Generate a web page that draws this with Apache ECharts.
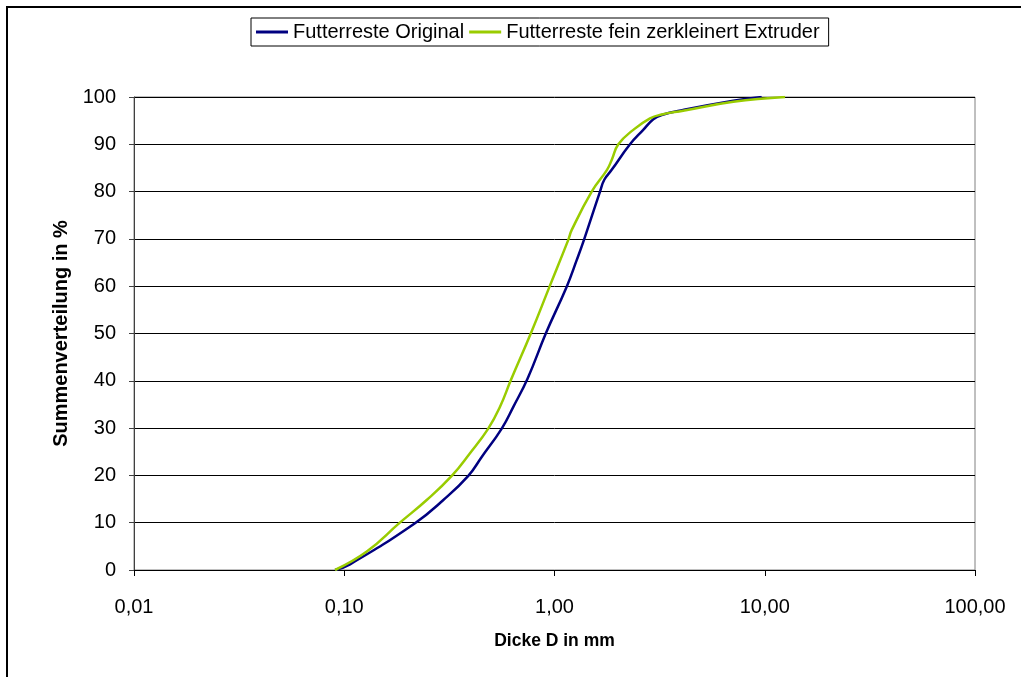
<!DOCTYPE html>
<html>
<head>
<meta charset="utf-8">
<script src="https://cdn.jsdelivr.net/npm/echarts@6/dist/echarts.min.js"></script>
<style>
html,body{margin:0;padding:0;background:#fff;overflow:hidden;}
#frame{position:absolute;left:6px;top:6px;width:1100px;height:800px;border-left:2px solid #000;border-top:2px solid #000;box-sizing:border-box;}
#chart{position:absolute;left:0;top:0;width:1021px;height:677px;}
</style>
</head>
<body>
<div id="frame"></div>
<div id="chart"></div>
<script>
const seriesNames = ['Futterreste Original', 'Futterreste fein zerkleinert Extruder'];
const xTickLabels = ['0,01', '0,10', '1,00', '10,00', '100,00'];
const originalData = [
  [0.0904, 0], [0.1065, 1.2], [0.217, 9.9], [0.296, 14.8], [0.389, 19.9],
  [0.4505, 23.9], [0.561, 29.9], [0.637, 34.5], [0.745, 40.5], [0.911, 50.1],
  [1.143, 59.9], [1.275, 65.5], [1.381, 69.8], [1.646, 80.0],
  [1.725, 82.5], [1.871, 84.6], [2.286, 90.0], [2.636, 93.0], [2.951, 95.3], [3.236, 96.2],
  [4.09, 97.25], [7.09, 99.2], [9.67, 100]
];
const extruderData = [
  [0.0904, 0], [0.128, 3.9], [0.1827, 9.9], [0.2467, 14.8], [0.3245, 19.9], [0.3963, 24.7],
  [0.484, 29.9], [0.5506, 34.5], [0.621, 40.2], [0.773, 50.1], [0.945, 59.8],
  [1.163, 69.8], [1.208, 71.9], [1.503, 80.0], [1.777, 84.6],
  [1.871, 86.7], [2.012, 90.0], [2.362, 93.0], [2.846, 95.5], [3.236, 96.3], [4.09, 97.1],
  [7.09, 99.0], [12.49, 100]
];

const chart = echarts.init(document.getElementById('chart'), null, {renderer: 'canvas'});
const font = 'Liberation Sans, Arial, sans-serif';
const labelMap = {0.01: xTickLabels[0], 0.1: xTickLabels[1], 1: xTickLabels[2], 10: xTickLabels[3], 100: xTickLabels[4]};
chart.setOption({
  animation: false,
  grid: {left: 134, right: 46, top: 97, bottom: 107, show: true, borderColor: '#808080', borderWidth: 1, backgroundColor: 'transparent'},
  legend: {
    data: seriesNames,
    left: 251, top: 18,
    padding: [4, 9, 4, 5],
    itemGap: 5,
    itemWidth: 32, itemHeight: 3,
    borderColor: '#000', borderWidth: 1,
    textStyle: {fontFamily: font, fontSize: 20, color: '#000'},
    icon: 'rect'
  },
  xAxis: {
    type: 'log', logBase: 10, min: 0.01, max: 100,
    name: 'Dicke D in mm', nameLocation: 'middle', nameGap: 62,
    nameTextStyle: {fontFamily: font, fontSize: 17.5, fontWeight: 'bold', color: '#000'},
    axisLine: {show: true, lineStyle: {color: '#000', width: 1}},
    axisTick: {show: true, length: 6, inside: false, lineStyle: {color: '#000'}},
    minorTick: {show: false},
    splitLine: {show: false},
    axisLabel: {margin: 27, fontFamily: font, fontSize: 20, color: '#000',
      formatter: v => labelMap[Math.round(v * 1000) / 1000] || ''}
  },
  yAxis: {
    type: 'value', min: 0, max: 100, interval: 10,
    name: 'Summenverteilung in %', nameLocation: 'middle', nameGap: 63, nameRotate: 90,
    nameTextStyle: {fontFamily: font, fontSize: 20, fontWeight: 'bold', color: '#000'},
    axisLine: {show: true, lineStyle: {color: '#404040', width: 1}},
    axisTick: {show: true, length: 5, lineStyle: {color: '#404040'}},
    splitLine: {show: true, lineStyle: {color: '#000', width: 1}},
    axisLabel: {margin: 18, fontFamily: font, fontSize: 20, color: '#000'}
  },
  series: [
    {name: seriesNames[0], type: 'line', data: originalData, smooth: 0.45, showSymbol: false, symbol: 'none',
      lineStyle: {color: '#000080', width: 2.5}, itemStyle: {color: '#000080'}},
    {name: seriesNames[1], type: 'line', data: extruderData, smooth: 0.45, showSymbol: false, symbol: 'none',
      lineStyle: {color: '#99CC00', width: 2.5}, itemStyle: {color: '#99CC00'}}
  ]
});
</script>
</body>
</html>
